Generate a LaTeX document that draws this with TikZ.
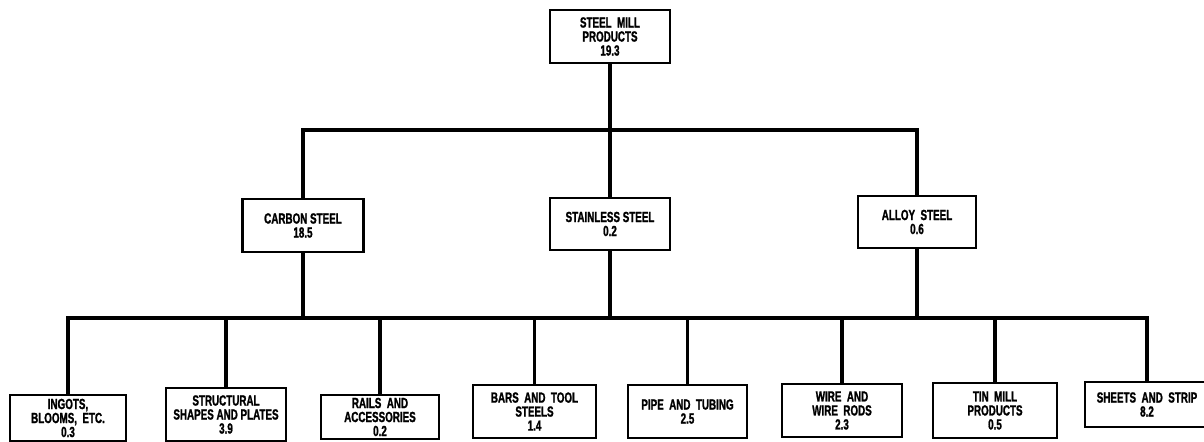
\documentclass[tikz,border=0pt]{standalone}
\usepackage{fontspec}
\setmainfont{Liberation Sans}[FakeStretch=0.67,BoldFeatures={FakeBold=1.3}]
\begin{document}
\begin{tikzpicture}[x=0.75pt,y=-0.75pt,
  box/.style={draw=black,line width=1.6pt,fill=white,inner sep=0pt,align=center,
    font=\fontsize{11}{10.5}\selectfont\bfseries},
  conn/.style={draw=black,line width=2.6pt,line cap=rect}]
\useasboundingbox (0,0) rectangle (1204,442);
% top level
\node[box,minimum width=90pt,minimum height=39.75pt] (top) at (610,36.5) {STEEL\ \ MILL\\PRODUCTS\\19.3};
% middle level
\node[box,minimum width=90.75pt,minimum height=39.75pt] (carbon) at (303,225.5) {CARBON STEEL\\18.5};
\node[box,minimum width=90pt,minimum height=39pt] (stainless) at (610,224) {STAINLESS STEEL\\0.2};
\node[box,minimum width=88.5pt,minimum height=39pt] (alloy) at (917,222) {ALLOY\ \ STEEL\\0.6};
% bottom level
\node[box,minimum width=87pt,minimum height=34.5pt] (ingots) at (68,418) {INGOTS,\\BLOOMS,\ \ ETC.\\0.3};
\node[box,minimum width=90pt,minimum height=39.75pt] (struct) at (226,414.5) {STRUCTURAL\\SHAPES AND PLATES\\3.9};
\node[box,minimum width=88.5pt,minimum height=33pt] (rails) at (380,417) {RAILS\ \ AND\\ACCESSORIES\\0.2};
\node[box,minimum width=92.25pt,minimum height=39.75pt] (bars) at (534.5,411.5) {BARS\ \ AND\ \ TOOL\\STEELS\\1.4};
\node[box,minimum width=89.25pt,minimum height=39.75pt] (pipe) at (687.5,411.5) {PIPE\ \ AND\ \ TUBING\\2.5};
\node[box,minimum width=90pt,minimum height=39.75pt] (wire) at (842,410.5) {WIRE\ \ AND\\WIRE\ \ RODS\\2.3};
\node[box,minimum width=93pt,minimum height=41.25pt] (tin) at (995,410.5) {TIN\ \ MILL\\PRODUCTS\\0.5};
\node[box,minimum width=93pt,minimum height=33.75pt] (sheets) at (1147,404.5) {SHEETS\ \ AND\ \ STRIP\\8.2};
% bus coordinates
\coordinate (ubus) at (0,130);
\coordinate (lbus) at (0,318);
% upper connectors
\draw[conn] (top.south) -- (top.south |- ubus);
\draw[conn] (carbon.north) -- (carbon.north |- ubus) -- (alloy.north |- ubus) -- (alloy.north);
\draw[conn] (stainless.north) -- (stainless.north |- ubus);
% middle to lower bus
\draw[conn] (carbon.south) -- (carbon.south |- lbus);
\draw[conn] (stainless.south) -- (stainless.south |- lbus);
\draw[conn] (alloy.south) -- (alloy.south |- lbus);
% lower connectors
\draw[conn] (ingots.north) -- (ingots.north |- lbus) -- (sheets.north |- lbus) -- (sheets.north);
\draw[conn] (struct.north) -- (struct.north |- lbus);
\draw[conn] (rails.north) -- (rails.north |- lbus);
\draw[conn] (bars.north) -- (bars.north |- lbus);
\draw[conn] (pipe.north) -- (pipe.north |- lbus);
\draw[conn] (wire.north) -- (wire.north |- lbus);
\draw[conn] (tin.north) -- (tin.north |- lbus);
\end{tikzpicture}
\end{document}
